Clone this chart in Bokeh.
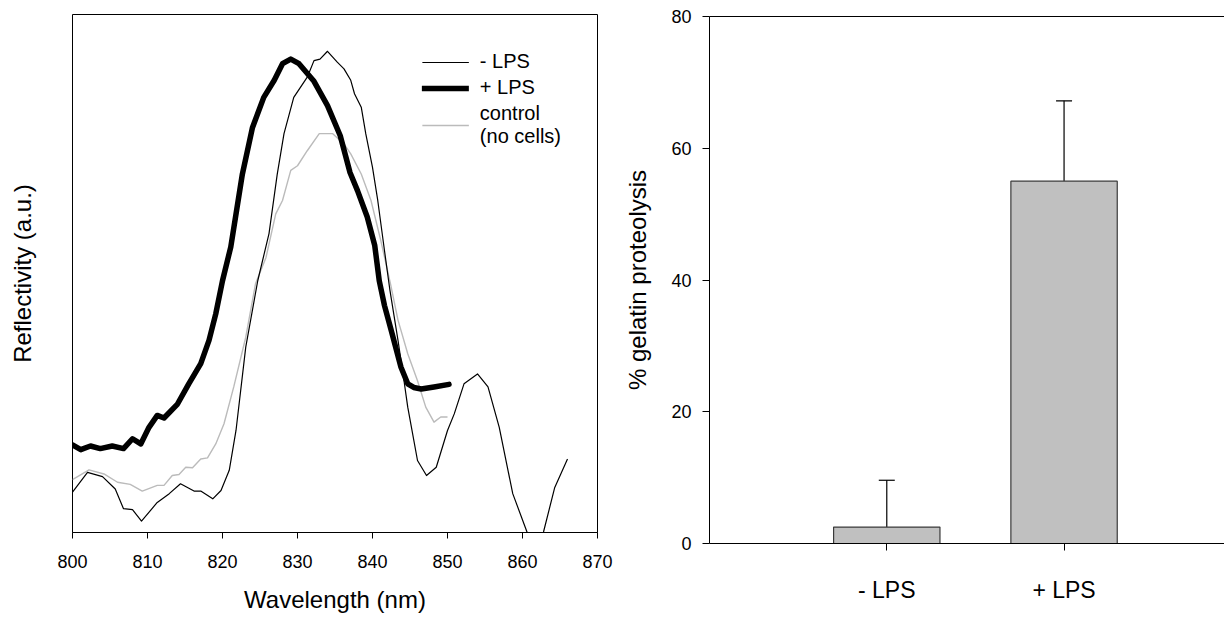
from bokeh.plotting import figure
from bokeh.models import (Range1d, FixedTicker, LinearAxis, Legend, LegendItem,
                          Whisker, TeeHead, ColumnDataSource)
from bokeh.layouts import row, column
from bokeh.embed import file_html
from bokeh.resources import INLINE

FONT = "Liberation Sans"

# ---------------- data: reflectivity spectra (arbitrary units) ----------------
wl_minus = [800.0, 802.0, 804.0, 805.7, 806.8, 808.0, 809.2, 811.3, 812.9, 814.4,
            816.2, 817.1, 818.7, 819.8, 820.9, 821.8, 823.1, 824.7, 826.2, 827.3,
            828.2, 829.5, 831.3, 832.2, 833.0, 834.0, 835.3, 836.2, 837.1, 837.6,
            838.5, 839.1, 840.0, 840.7, 841.6, 842.3, 843.4, 844.2, 844.7, 846.0,
            847.2, 848.5, 850.0, 850.9, 852.2, 854.0, 855.4, 856.9, 858.7, 860.6,
            861.7, 862.8, 864.3, 866.0]
r_minus = [0.078, 0.116, 0.108, 0.084, 0.046, 0.044, 0.022, 0.058, 0.075, 0.094,
           0.080, 0.080, 0.065, 0.081, 0.120, 0.197, 0.358, 0.486, 0.577, 0.692,
           0.770, 0.840, 0.879, 0.911, 0.914, 0.929, 0.908, 0.895, 0.873, 0.847,
           0.821, 0.770, 0.705, 0.641, 0.544, 0.470, 0.371, 0.293, 0.242, 0.139,
           0.110, 0.126, 0.197, 0.229, 0.287, 0.306, 0.281, 0.203, 0.075, 0.001,
           -0.040, 0.001, 0.087, 0.142]

wl_plus = [800.0, 801.1, 802.4, 803.7, 805.3, 806.8, 808.0, 809.1, 810.2, 811.3,
           812.2, 814.0, 815.5, 817.1, 818.2, 819.1, 820.0, 821.1, 822.65, 824.0,
           825.5, 826.9, 828.0, 829.1, 830.2, 832.2, 834.0, 835.7, 837.0, 838.0,
           839.3, 840.3, 840.9, 841.6, 842.5, 843.8, 844.7, 845.5, 846.5, 848.2,
           850.2]
r_plus = [0.169, 0.160, 0.167, 0.162, 0.167, 0.162, 0.181, 0.171, 0.203, 0.226,
          0.221, 0.248, 0.287, 0.326, 0.371, 0.422, 0.486, 0.551, 0.692, 0.782,
          0.840, 0.873, 0.905, 0.914, 0.905, 0.871, 0.824, 0.766, 0.695, 0.660,
          0.609, 0.554, 0.486, 0.438, 0.390, 0.319, 0.287, 0.280, 0.277, 0.281,
          0.286]

wl_ctrl = [800.0, 802.2, 804.2, 806.0, 807.7, 809.3, 811.3, 812.2, 813.3, 814.2,
           815.1, 816.0, 817.1, 818.0, 819.1, 820.2, 821.5, 823.1, 824.4, 825.8,
           827.1, 828.0, 829.1, 830.0, 831.3, 832.9, 834.7, 836.2, 837.1, 838.5,
           839.8, 841.1, 842.4, 843.4, 844.7, 846.0, 847.1, 848.2, 849.1, 850.0]
r_ctrl = [0.102, 0.121, 0.113, 0.097, 0.093, 0.080, 0.091, 0.091, 0.110, 0.112,
          0.126, 0.125, 0.142, 0.144, 0.171, 0.210, 0.281, 0.377, 0.480, 0.531,
          0.615, 0.641, 0.699, 0.708, 0.737, 0.770, 0.770, 0.750, 0.731, 0.692,
          0.641, 0.564, 0.480, 0.410, 0.345, 0.293, 0.242, 0.213, 0.223, 0.223]

wl_ticks = [800, 810, 820, 830, 840, 850, 860, 870]

# ---------------- data: gelatin proteolysis ----------------
categories = ["- LPS", "+ LPS"]
cat_pos = [1, 2]
proteolysis = [2.5, 55.0]
proteolysis_err = [7.1, 12.2]
pct_ticks = [0, 20, 40, 60, 80]

# ---------------- left panel ----------------
p1 = figure(width=620, height=616, x_range=Range1d(800, 870), y_range=Range1d(0, 1),
            output_backend="svg", toolbar_location=None,
            min_border_left=72, min_border_right=23, min_border_top=14, min_border_bottom=84)
p1.grid.visible = False
p1.outline_line_color = "black"
p1.outline_line_width = 1
p1.outline_line_alpha = 1.0
p1.background_fill_color = "white"
p1.border_fill_color = "white"

rc = p1.line(wl_ctrl, r_ctrl, line_color="#BBBBBB", line_width=1.4, line_join="round")
rm = p1.line(wl_minus, r_minus, line_color="black", line_width=1.2, line_join="round")
rp = p1.line(wl_plus, r_plus, line_color="black", line_width=5.5,
             line_join="round", line_cap="round")

xa = p1.xaxis[0]
xa.ticker = FixedTicker(ticks=wl_ticks)
xa.major_tick_in = 0
xa.major_tick_out = 6
xa.minor_tick_in = 0
xa.minor_tick_out = 0
xa.axis_line_color = "black"
xa.major_tick_line_color = "black"
xa.major_label_text_font = FONT
xa.major_label_text_font_size = "18px"
xa.major_label_text_color = "black"
xa.major_label_standoff = 16
xa.axis_label = "Wavelength (nm)"
xa.axis_label_text_font = FONT
xa.axis_label_text_font_size = "24px"
xa.axis_label_text_font_style = "normal"
xa.axis_label_text_color = "black"
xa.axis_label_standoff = 15

ya = p1.yaxis[0]
ya.ticker = FixedTicker(ticks=[])
ya.axis_line_color = None
ya.major_tick_out = 0
ya.major_tick_in = 0
ya.minor_tick_out = 0
ya.minor_tick_in = 0
ya.major_label_text_font_size = "0px"
ya.axis_label = "Reflectivity (a.u.)"
ya.axis_label_text_font = FONT
ya.axis_label_text_font_size = "24px"
ya.axis_label_text_font_style = "normal"
ya.axis_label_text_color = "black"
ya.axis_label_standoff = 37

legend = Legend(items=[LegendItem(label="- LPS", renderers=[rm]),
                       LegendItem(label="+ LPS", renderers=[rp]),
                       LegendItem(label="control\n(no cells)", renderers=[rc])],
                location="top_right", margin=36, padding=0, spacing=3,
                glyph_width=47, glyph_height=22, label_standoff=11,
                label_text_font=FONT, label_text_font_size="20px",
                label_text_color="black",
                label_height=22,
                border_line_alpha=0, background_fill_alpha=0)
p1.add_layout(legend)

# ---------------- right panel ----------------
p2 = figure(width=604, height=616, x_range=Range1d(0, 2.905), y_range=Range1d(0, 80),
            output_backend="svg", toolbar_location=None,
            min_border_left=89, min_border_right=0, min_border_top=16, min_border_bottom=73)
p2.grid.visible = False
p2.outline_line_color = None
p2.background_fill_color = "white"
p2.border_fill_color = "white"

src = ColumnDataSource(dict(x=cat_pos, top=proteolysis,
                            upper=[v + e for v, e in zip(proteolysis, proteolysis_err)]))
p2.vbar(x="x", top="top", width=0.6, bottom=0, source=src,
        fill_color="#C0C0C0", line_color="#3a3a3a", line_width=1.2)
wh = Whisker(source=src, base="x", lower="top", upper="upper",
             lower_head=None, upper_head=TeeHead(size=16, line_color="black", line_width=1.2),
             line_color="black", line_width=1.2)
p2.add_layout(wh)

top_ax = LinearAxis(ticker=FixedTicker(ticks=[]), major_label_text_font_size="0px",
                    major_tick_out=0, major_tick_in=0, minor_tick_out=0, minor_tick_in=0,
                    axis_line_color="black")
p2.add_layout(top_ax, "above")

bx = p2.below[0]
bx.ticker = FixedTicker(ticks=cat_pos)
bx.major_label_overrides = {pos: lab for pos, lab in zip(cat_pos, categories)}
bx.major_tick_in = 0
bx.major_tick_out = 7
bx.minor_tick_in = 0
bx.minor_tick_out = 0
bx.axis_line_color = "black"
bx.major_label_text_font = FONT
bx.major_label_text_font_size = "23px"
bx.major_label_text_color = "black"
bx.major_label_standoff = 26

ly = p2.left[0]
ly.ticker = FixedTicker(ticks=pct_ticks)
ly.major_tick_in = 0
ly.major_tick_out = 7
ly.minor_tick_in = 0
ly.minor_tick_out = 0
ly.axis_line_color = "black"
ly.major_label_text_font = FONT
ly.major_label_text_font_size = "18px"
ly.major_label_text_color = "black"
ly.major_label_standoff = 11
ly.axis_label = "% gelatin proteolysis"
ly.axis_label_text_font = FONT
ly.axis_label_text_font_size = "24px"
ly.axis_label_text_font_style = "normal"
ly.axis_label_text_color = "black"
ly.axis_label_standoff = 17

layout = row(column(p1), column(p2))
open("out.html", "w").write(file_html(layout, INLINE))
